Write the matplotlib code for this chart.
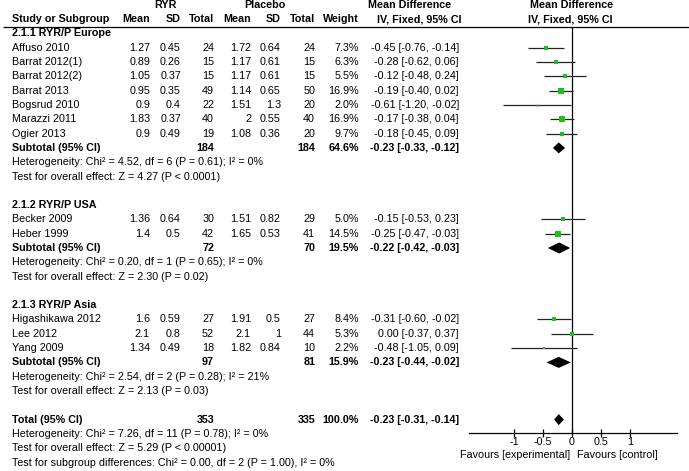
import numpy as np
import matplotlib.pyplot as plt

plt.rcParams['font.family'] = ['Liberation Sans', 'DejaVu Sans']
FS = 7.75

# =========================
# Data
# =========================
group_titles = ["2.1.1 RYR/P Europe", "2.1.2 RYR/P USA", "2.1.3 RYR/P Asia"]

study_names = [
    "Affuso 2010", "Barrat 2012(1)", "Barrat 2012(2)", "Barrat 2013",
    "Bogsrud 2010", "Marazzi 2011", "Ogier 2013",
    "Becker 2009", "Heber 1999",
    "Higashikawa 2012", "Lee 2012", "Yang 2009",
]
study_group = [0, 0, 0, 0, 0, 0, 0, 1, 1, 2, 2, 2]

ryr_mean = [1.27, 0.89, 1.05, 0.95, 0.9, 1.83, 0.9, 1.36, 1.4, 1.6, 2.1, 1.34]
ryr_sd = [0.45, 0.26, 0.37, 0.35, 0.4, 0.37, 0.49, 0.64, 0.5, 0.59, 0.8, 0.49]
ryr_n = [24, 15, 15, 49, 22, 40, 19, 30, 42, 27, 52, 18]
pla_mean = [1.72, 1.17, 1.17, 1.14, 1.51, 2, 1.08, 1.51, 1.65, 1.91, 2.1, 1.82]
pla_sd = [0.64, 0.61, 0.61, 0.65, 1.3, 0.55, 0.36, 0.82, 0.53, 0.5, 1, 0.84]
pla_n = [24, 15, 15, 50, 20, 40, 20, 29, 41, 27, 44, 10]
weight = [7.3, 6.3, 5.5, 16.9, 2.0, 16.9, 9.7, 5.0, 14.5, 8.4, 5.3, 2.2]
md = [-0.45, -0.28, -0.12, -0.19, -0.61, -0.17, -0.18, -0.15, -0.25, -0.31, 0.00, -0.48]
md_lo = [-0.76, -0.62, -0.48, -0.40, -1.20, -0.38, -0.45, -0.53, -0.47, -0.60, -0.37, -1.05]
md_hi = [-0.14, 0.06, 0.24, 0.02, -0.02, 0.04, 0.09, 0.23, -0.03, -0.02, 0.37, 0.09]

sub_ryr_n = [184, 72, 97]
sub_pla_n = [184, 70, 81]
sub_weight = [64.6, 19.5, 15.9]
sub_md = [-0.23, -0.22, -0.23]
sub_lo = [-0.33, -0.42, -0.44]
sub_hi = [-0.12, -0.03, -0.02]
sub_chi2 = [4.52, 0.20, 2.54]
sub_df = [6, 1, 2]
sub_p = [0.61, 0.65, 0.28]
sub_i2 = [0, 0, 21]
sub_z = [4.27, 2.30, 2.13]
sub_pz = ["P < 0.0001", "P = 0.02", "P = 0.03"]

tot_ryr_n, tot_pla_n, tot_weight = 353, 335, 100.0
tot_md, tot_lo, tot_hi = -0.23, -0.31, -0.14
tot_het = "Heterogeneity: Chi\u00b2 = 7.26, df = 11 (P = 0.78); I\u00b2 = 0%"
tot_effect = "Test for overall effect: Z = 5.29 (P < 0.00001)"
tot_subgroup = "Test for subgroup differences: Chi\u00b2 = 0.00, df = 2 (P = 1.00), I\u00b2 = 0%"

x_ticks = [-1, -0.5, 0, 0.5, 1]
x_tick_labels = ["-1", "-0.5", "0", "0.5", "1"]

# =========================
# Layout (pixel space of a 689x471 figure)
# =========================
W, H = 689, 471
Y0, PITCH = 33.5, 14.3
X0_PX, PX_PER_UNIT = 572.0, 57.8
PLOT_L, PLOT_R, AXIS_Y, HEAD_Y = 469, 677, 433, 27
GREEN = "#1fbf1f"

col_right = {"ryr_mean": 150, "ryr_sd": 181, "ryr_n": 214,
             "pla_mean": 251, "pla_sd": 281, "pla_n": 315,
             "weight": 359, "ci": 459}


def row_y(k):
    return Y0 + PITCH * k


fig = plt.figure(figsize=(W / 100, H / 100), dpi=100)
tax = fig.add_axes([0, 0, 1, 1])
tax.set_xlim(0, W)
tax.set_ylim(H, 0)
tax.axis("off")

fax = fig.add_axes([PLOT_L / W, 1 - AXIS_Y / H, (PLOT_R - PLOT_L) / W, (AXIS_Y - HEAD_Y) / H])
fax.set_xlim((PLOT_L - X0_PX) / PX_PER_UNIT, (PLOT_R - X0_PX) / PX_PER_UNIT)
fax.set_ylim(AXIS_Y, HEAD_Y)
fax.patch.set_visible(False)
for s in ("top", "left", "right"):
    fax.spines[s].set_visible(False)
fax.spines["bottom"].set_linewidth(0.9)
fax.set_yticks([])
fax.set_xticks(x_ticks)
fax.set_xticklabels(x_tick_labels, fontsize=FS)
fax.tick_params(axis="x", direction="inout", length=6, width=0.9, pad=0)
fax.axvline(0, color="black", lw=0.9)


def txt(x, y, s, ha="left", bold=False):
    tax.text(x, y, s, ha=ha, va="center", fontsize=FS,
             fontweight="bold" if bold else "normal")


def ci_str(m, lo, hi):
    return f"{m:.2f} [{lo:.2f}, {hi:.2f}]"


# headers
txt(165, row_y(-2), "RYR", "center", True)
txt(265, row_y(-2), "Placebo", "center", True)
txt(410, row_y(-2), "Mean Difference", "center", True)
txt(572, row_y(-2), "Mean Difference", "center", True)
txt(12, row_y(-1), "Study or Subgroup", bold=True)
for key, lab in [("ryr_mean", "Mean"), ("ryr_sd", "SD"), ("ryr_n", "Total"),
                 ("pla_mean", "Mean"), ("pla_sd", "SD"), ("pla_n", "Total"),
                 ("weight", "Weight")]:
    txt(col_right[key], row_y(-1), lab, "right", True)
txt(419, row_y(-1), "IV, Fixed, 95% CI", "center", True)
txt(570, row_y(-1), "IV, Fixed, 95% CI", "center", True)
tax.hlines(HEAD_Y, 3, W, color="black", lw=0.9)

# groups
k = 0
for g, title in enumerate(group_titles):
    txt(12, row_y(k), title, bold=True)
    k += 1
    for i in [j for j, gg in enumerate(study_group) if gg == g]:
        y = row_y(k)
        txt(12, y, study_names[i])
        txt(col_right["ryr_mean"], y, f"{ryr_mean[i]:g}", "right")
        txt(col_right["ryr_sd"], y, f"{ryr_sd[i]:g}", "right")
        txt(col_right["ryr_n"], y, f"{ryr_n[i]}", "right")
        txt(col_right["pla_mean"], y, f"{pla_mean[i]:g}", "right")
        txt(col_right["pla_sd"], y, f"{pla_sd[i]:g}", "right")
        txt(col_right["pla_n"], y, f"{pla_n[i]}", "right")
        txt(col_right["weight"], y, f"{weight[i]:.1f}%", "right")
        txt(col_right["ci"], y, ci_str(md[i], md_lo[i], md_hi[i]), "right")
        fax.plot([md_lo[i], md_hi[i]], [y, y], color="#222222", lw=0.9,
                 solid_capstyle="butt", clip_on=False)
        fax.plot(md[i], y, "s", color=GREEN, ms=1.0 * np.sqrt(weight[i]),
                 mew=0, clip_on=False)
        k += 1
    y = row_y(k)
    txt(12, y, "Subtotal (95% CI)", bold=True)
    txt(col_right["ryr_n"], y, f"{sub_ryr_n[g]}", "right", True)
    txt(col_right["pla_n"], y, f"{sub_pla_n[g]}", "right", True)
    txt(col_right["weight"], y, f"{sub_weight[g]:.1f}%", "right", True)
    txt(col_right["ci"], y, ci_str(sub_md[g], sub_lo[g], sub_hi[g]), "right", True)
    fax.fill([sub_lo[g], sub_md[g], sub_hi[g], sub_md[g]], [y, y - 5.5, y, y + 5.5],
             color="black", lw=0)
    k += 1
    txt(12, row_y(k), f"Heterogeneity: Chi\u00b2 = {sub_chi2[g]:.2f}, df = {sub_df[g]} "
                      f"(P = {sub_p[g]:.2f}); I\u00b2 = {sub_i2[g]}%")
    k += 1
    txt(12, row_y(k), f"Test for overall effect: Z = {sub_z[g]:.2f} ({sub_pz[g]})")
    k += 2

# total
y = row_y(k)
txt(12, y, "Total (95% CI)", bold=True)
txt(col_right["ryr_n"], y, f"{tot_ryr_n}", "right", True)
txt(col_right["pla_n"], y, f"{tot_pla_n}", "right", True)
txt(col_right["weight"], y, f"{tot_weight:.1f}%", "right", True)
txt(col_right["ci"], y, ci_str(tot_md, tot_lo, tot_hi), "right", True)
fax.fill([tot_lo, tot_md, tot_hi, tot_md], [y, y - 5.5, y, y + 5.5], color="black", lw=0)
txt(12, row_y(k + 1), tot_het)
txt(12, row_y(k + 2), tot_effect)
txt(12, row_y(k + 3), tot_subgroup)

txt(570, 455, "Favours [experimental]", "right")
txt(577, 455, "Favours [control]", "left")

fig.savefig("out.png", dpi=100)
